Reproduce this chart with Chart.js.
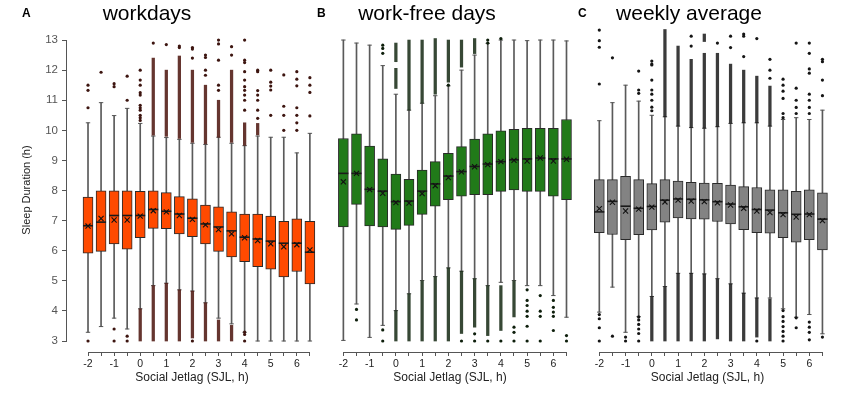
<!DOCTYPE html>
<html>
<head>
<meta charset="utf-8">
<script src="https://cdn.jsdelivr.net/npm/chart.js@4.4.1/dist/chart.umd.min.js"></script>
<style>
  html, body { margin: 0; padding: 0; background: #fff; }
  #wrap { position: relative; width: 850px; height: 398px; overflow: hidden; font-family: 'Liberation Sans', Arial, sans-serif; }
  .panel { position: absolute; top: 0; height: 398px; }
  .ttl { position: absolute; top: 2px; font-size: 21px; line-height: 21px; color: #000; transform: translateX(-50%); white-space: nowrap; }
  .lab { position: absolute; top: 7px; font-size: 12px; line-height: 12px; font-weight: bold; color: #000; }
</style>
</head>
<body>
<div id="wrap">
  <div class="panel" style="left:0;width:317px"><canvas id="cA"></canvas></div>
  <div class="panel" style="left:325px;width:250px"><canvas id="cB"></canvas></div>
  <div class="panel" style="left:585px;width:245px"><canvas id="cC"></canvas></div>
  <div class="lab" style="left:22px">A</div>
  <div class="ttl" style="left:147px">workdays</div>
  <div class="lab" style="left:317px">B</div>
  <div class="ttl" style="left:427px">work-free days</div>
  <div class="lab" style="left:578px">C</div>
  <div class="ttl" style="left:689px">weekly average</div>
</div>
<script>
// social jetlag classes (h) and y ticks
const sjl = [-2, -1.5, -1, -0.5, 0, 0.5, 1, 1.5, 2, 2.5, 3, 3.5, 4, 4.5, 5, 5.5, 6, 6.5];
const yTicks = [3, 4, 5, 6, 7, 8, 9, 10, 11, 12, 13];

// ── A: workdays ──
const q1A  = [5.92, 5.98, 6.23, 6.05, 6.43, 6.74, 6.73, 6.56, 6.47, 6.23, 5.98, 5.79, 5.64, 5.47, 5.39, 5.13, 5.31, 4.90];
const q3A  = [7.78, 7.99, 7.99, 7.99, 7.97, 7.99, 7.93, 7.80, 7.72, 7.52, 7.46, 7.29, 7.22, 7.22, 7.15, 6.98, 7.06, 6.98];
const medA = [6.83, 6.95, 7.17, 7.17, 7.17, 7.37, 7.31, 7.22, 7.08, 6.89, 6.79, 6.66, 6.45, 6.39, 6.32, 6.25, 6.25, 5.95];
const avgA = [6.82, 7.07, 7.02, 7.02, 7.15, 7.33, 7.29, 7.17, 7.04, 6.86, 6.70, 6.56, 6.43, 6.34, 6.23, 6.13, 6.20, 6.03];
const loA  = [3.29, 3.48, 3.76, 3.40, 4.07, 4.84, 4.92, 4.70, 4.66, 4.27, 3.76, 3.57, 3.29, 3.00, 3.00, 3.00, 3.00, 3.00];
const hiA  = [10.25, 10.92, 10.49, 10.73, 10.23, 9.81, 9.76, 9.70, 9.57, 9.53, 9.77, 9.57, 9.49, 9.81, 9.77, 9.77, 9.25, 9.90];
const outA = [
  [11.5, 11.33, 10.75, 3.0],
  [11.93],
  [11.55, 11.45, 3.4, 3.0],
  [11.8, 11.0, 3.16, 3.0],
  [12.0, 11.67, 11.5, 11.25, 11.17, 10.83, 10.75, 10.67, 10.5, 10.42, 10.33],
  [12.9],
  [12.85],
  [12.8, 12.75],
  [12.75, 12.7, 12.4, 3.0],
  [12.5, 12.42, 12.0, 11.83],
  [13.0, 12.87, 12.33, 11.5, 11.33],
  [12.78, 12.5],
  [13.0, 12.33, 12.25, 11.95, 11.67, 11.45, 11.33, 11.17, 11.0, 10.67, 3.3, 3.22, 3.0],
  [12.0, 11.95, 11.32, 11.17, 11.0, 10.67, 10.4],
  [12.0, 11.6, 11.47, 11.34, 10.5],
  [11.84, 10.8, 10.5, 10.0],
  [11.95, 11.7, 11.48, 10.75, 10.5, 10.25, 10.0],
  [11.75, 11.5, 11.26, 10.48]
];
// dense runs of outliers [from, to]
const bandA = [
  [], [], [], [],
  [[3.0, 4.07]],
  [[9.84, 12.4], [3.0, 4.84]],
  [[9.8, 12.0], [3.0, 4.92]],
  [[9.73, 12.47], [3.0, 4.7]],
  [[9.6, 12.0], [3.1, 4.66]],
  [[9.55, 11.5], [3.0, 4.27]],
  [[9.77, 11.0], [3.0, 3.7]],
  [[9.6, 12.0], [3.0, 3.52]],
  [[9.5, 10.25]],
  [[9.85, 10.23]],
  [], [], [], []
];

// ── B: work-free days ──
const q1B  = [6.79, 7.54, 6.82, 6.79, 6.71, 6.84, 7.21, 7.48, 7.70, 7.81, 7.86, 7.86, 7.97, 8.02, 7.97, 7.97, 7.81, 7.70];
const q3B  = [9.73, 9.88, 9.48, 9.05, 8.55, 8.37, 8.68, 8.96, 9.24, 9.46, 9.71, 9.88, 9.98, 10.03, 10.07, 10.07, 10.07, 10.36];
const medB = [8.57, 8.57, 8.04, 7.98, 7.63, 7.65, 7.98, 8.22, 8.48, 8.63, 8.80, 8.88, 8.96, 9.02, 9.05, 9.08, 9.05, 9.05];
const avgB = [8.29, 8.57, 8.03, 7.91, 7.60, 7.58, 7.90, 8.16, 8.43, 8.62, 8.79, 8.86, 8.96, 9.00, 8.98, 9.08, 8.98, 9.04];
const loB  = [3.02, 4.23, 3.12, 3.52, 4.01, 4.57, 5.01, 5.14, 5.43, 5.32, 5.07, 4.84, 4.95, 5.01, 4.84, 4.84, 4.51, 3.79];
const hiB  = [13.0, 12.9, 12.83, 12.15, 11.2, 10.67, 10.9, 11.15, 11.48, 12.0, 12.5, 12.89, 13.0, 13.0, 12.98, 13.0, 13.0, 12.97];
const outB = [
  [],
  [4.05, 3.7],
  [],
  [12.83, 12.72, 12.56, 3.37, 3.0],
  [],
  [],
  [],
  [],
  [11.5],
  [3.0],
  [3.24, 3.0],
  [13.0, 12.9, 3.0],
  [13.05, 3.0],
  [3.46, 3.29, 3.0],
  [4.7, 4.35, 4.18, 3.99, 3.82, 3.49, 3.0],
  [4.51, 3.99, 3.82, 3.0],
  [4.35, 4.12, 3.96, 3.82, 3.35],
  [3.18, 3.0]
];
const bandB = [
  [], [], [], [],
  [[12.28, 12.9], [11.39, 12.06], [3.0, 4.01]],
  [[10.67, 13.0], [3.0, 4.57]],
  [[10.9, 13.0], [3.0, 5.0]],
  [[11.2, 13.05], [3.0, 5.14]],
  [[11.6, 13.0], [3.0, 5.43]],
  [[12.1, 13.0], [3.25, 5.32]],
  [[12.55, 13.05], [3.46, 5.07]],
  [[3.18, 4.84]],
  [[3.35, 4.84]],
  [[3.8, 5.0]],
  [], [], [], []
];

// ── C: weekly average ──
const q1C  = [6.60, 6.54, 6.37, 6.53, 6.69, 6.95, 7.09, 7.06, 7.05, 6.97, 6.89, 6.70, 6.60, 6.58, 6.43, 6.28, 6.37, 6.03];
const q3C  = [8.36, 8.36, 8.47, 8.36, 8.23, 8.36, 8.31, 8.27, 8.25, 8.24, 8.18, 8.13, 8.10, 8.02, 8.02, 7.97, 8.02, 7.92];
const medC = [7.29, 7.64, 7.48, 7.41, 7.47, 7.68, 7.72, 7.71, 7.69, 7.63, 7.55, 7.46, 7.37, 7.35, 7.26, 7.21, 7.22, 7.05];
const avgC = [7.40, 7.61, 7.32, 7.38, 7.45, 7.62, 7.68, 7.65, 7.63, 7.59, 7.52, 7.41, 7.32, 7.27, 7.20, 7.12, 7.20, 7.00];
const loC  = [3.96, 4.79, 3.29, 3.81, 4.48, 4.81, 5.25, 5.25, 5.23, 5.07, 4.90, 4.59, 4.43, 4.43, 4.07, 3.79, 3.88, 3.24];
const hiC  = [10.32, 10.92, 11.5, 10.97, 10.5, 10.45, 10.14, 10.09, 10.07, 10.12, 10.23, 10.25, 10.25, 10.14, 10.36, 10.42, 10.36, 10.67];
const outC = [
  [13.33, 12.98, 12.76, 11.54, 3.88, 3.74, 3.44, 3.0],
  [12.41, 3.16],
  [3.13, 3.0],
  [11.97, 11.34, 11.23, 3.8, 3.7, 3.55, 3.4, 3.25, 3.0],
  [12.3, 12.2, 12.17, 11.67, 11.34, 11.2, 11.0, 10.77, 10.65],
  [],
  [],
  [13.13, 12.8],
  [],
  [12.9],
  [13.13, 12.75],
  [13.2, 13.13, 12.45],
  [13.05, 3.0],
  [12.36, 12.0, 11.73],
  [11.7, 11.5, 11.3, 11.06, 10.56, 10.42, 4.01, 3.81, 3.65, 3.48, 3.32, 3.16, 3.0],
  [12.9, 11.4, 11.0, 10.76, 10.56, 3.77, 3.44],
  [12.9, 12.56, 12.04, 11.9, 11.2, 11.0, 10.76, 10.56, 3.63, 3.46, 3.29, 3.04],
  [12.36, 12.28, 11.67, 11.15, 3.13]
];
const bandC = [
  [], [], [], [],
  [[3.0, 4.48]],
  [[10.45, 13.35], [3.0, 4.81]],
  [[10.14, 12.8], [3.0, 5.25]],
  [[10.09, 12.36], [3.0, 5.25]],
  [[12.95, 13.2], [10.07, 12.56], [3.0, 5.23]],
  [[10.12, 12.56], [3.07, 5.07]],
  [[10.23, 12.2], [3.0, 4.9]],
  [[10.25, 12.0], [3.0, 4.59]],
  [[10.25, 11.8], [3.13, 4.43]],
  [[10.14, 11.47], [3.0, 4.4]],
  [], [], [], []
];

Chart.defaults.font.family = "'Liberation Sans', Arial, sans-serif";

// detached R-style axis lines, spanning first..last tick
const axisLines = {
  id: 'axisLines',
  afterDraw(chart) {
    const { ctx, chartArea: ca, scales: { x, y } } = chart;
    ctx.save();
    ctx.strokeStyle = '#555';
    ctx.lineWidth = 1;
    ctx.beginPath();
    ctx.moveTo(x.getPixelForValue(sjl[0]), ca.bottom + 0.5);
    ctx.lineTo(x.getPixelForValue(sjl[sjl.length - 1]), ca.bottom + 0.5);
    if (y.options.display) {
      ctx.moveTo(ca.left - 0.5, y.getPixelForValue(yTicks[0]));
      ctx.lineTo(ca.left - 0.5, y.getPixelForValue(yTicks[yTicks.length - 1]));
    }
    ctx.stroke();
    ctx.restore();
  }
};

function boxSets(p) {
  const pts = arr => sjl.map((x, i) => ({ x, y: arr[i] }));
  const outs = [], bands = [], caps = [];
  sjl.forEach((x, i) => {
    p.out[i].forEach(v => outs.push({ x, y: v }));
    p.band[i].forEach(b => bands.push({ x, y: b }));
    caps.push({ x, y: p.lo[i] }, { x, y: p.hi[i] });
  });
  return [
    { type: 'scatter', data: pts(p.avg), pointStyle: 'crossRot', pointRadius: 3.6,
      pointBorderColor: '#111', pointBorderWidth: 1.1, order: 0, clip: false },
    { type: 'scatter', data: pts(p.med), pointStyle: 'line', pointRadius: 5,
      pointBorderColor: '#1a1a1a', pointBorderWidth: 1.6, order: 1, clip: false },
    { type: 'bar', data: sjl.map((x, i) => ({ x, y: [p.q1[i], p.q3[i]] })),
      backgroundColor: p.fill, borderColor: '#2a2a2a', borderWidth: 1, borderSkipped: false,
      barThickness: 10, grouped: false, order: 2, clip: false },
    { type: 'scatter', data: outs, pointStyle: 'circle', pointRadius: 1.6,
      pointBackgroundColor: p.dot, pointBorderWidth: 0, order: 3, clip: false },
    { type: 'bar', data: bands, backgroundColor: p.band_c, borderWidth: 0,
      barThickness: 2.6, grouped: false, order: 4, clip: false },
    { type: 'scatter', data: caps, pointStyle: 'line', pointRadius: 2.2,
      pointBorderColor: '#555', pointBorderWidth: 1, order: 5, clip: false },
    { type: 'bar', data: sjl.map((x, i) => ({ x, y: [p.lo[i], p.hi[i]] })),
      backgroundColor: '#5a5a5a', borderWidth: 0, barThickness: 1, grouped: false, order: 6, clip: false },
  ];
}

function makeChart(id, p, xMin, xMax, showY) {
  return new Chart(document.getElementById(id), {
    type: 'bar',
    data: { datasets: boxSets(p) },
    options: {
      responsive: true,
      maintainAspectRatio: false,
      animation: false,
      events: [],
      layout: { autoPadding: false, padding: { top: 28, left: 0, right: 0, bottom: 0 } },
      plugins: { legend: { display: false }, tooltip: { enabled: false } },
      scales: {
        x: {
          type: 'linear',
          min: xMin,
          max: xMax,
          offset: false,
          afterBuildTicks: s => { s.ticks = sjl.map(v => ({ value: v })); },
          afterFit: s => { s.height = 46; },
          border: { display: false },
          grid: { display: true, offset: false, drawOnChartArea: false, drawTicks: true, tickLength: 4, color: '#555' },
          ticks: {
            autoSkip: false, maxRotation: 0, padding: 2, color: '#222',
            font: { size: 10.5 },
            callback: v => Number.isInteger(v) ? String(v) : ''
          },
          title: { display: true, text: 'Social Jetlag (SJL, h)', color: '#222',
                   font: { size: 12 }, padding: { top: 0, bottom: 13 } }
        },
        y: {
          type: 'linear',
          display: showY,
          min: 2.635,
          max: 13.4,
          afterBuildTicks: s => { s.ticks = yTicks.map(v => ({ value: v })); },
          afterFit: s => { s.width = showY ? 67 : 0; },
          border: { display: false },
          grid: { display: true, drawOnChartArea: false, drawTicks: true, tickLength: 5, color: '#555' },
          ticks: { padding: 4, color: '#555', font: { size: 11.5 } },
          title: { display: true, text: 'Sleep Duration (h)', color: '#222',
                   font: { size: 11 }, padding: { top: 20, bottom: 0 } }
        }
      }
    },
    plugins: [axisLines]
  });
}

makeChart('cA', { q1: q1A, q3: q3A, med: medA, avg: avgA, lo: loA, hi: hiA, out: outA, band: bandA,
                  fill: '#ff4a00', dot: '#3d1510', band_c: 'rgba(80,25,18,0.88)' }, -2.805, 6.773, true);
makeChart('cB', { q1: q1B, q3: q3B, med: medB, avg: avgB, lo: loB, hi: hiB, out: outB, band: bandB,
                  fill: '#217a19', dot: '#0e1f0c', band_c: 'rgba(20,40,18,0.85)' }, -2.70, 6.824, false);
makeChart('cC', { q1: q1C, q3: q3C, med: medC, avg: avgC, lo: loC, hi: hiC, out: outC, band: bandC,
                  fill: '#838383', dot: '#151515', band_c: 'rgba(25,25,25,0.85)' }, -2.545, 6.788, false);
</script>
</body>
</html>
